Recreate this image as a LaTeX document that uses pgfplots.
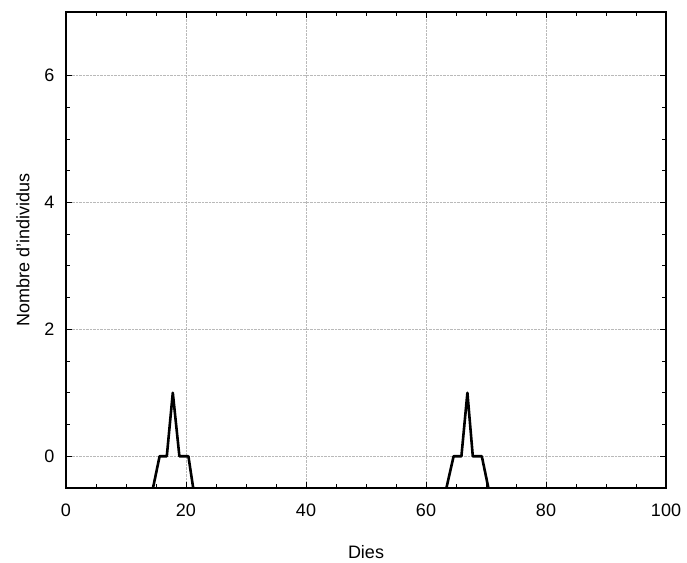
\documentclass[border=0pt]{standalone}
\usepackage{pgfplots}
\pgfplotsset{compat=1.18}
\usepackage{fontspec}
\setmainfont{Liberation Sans}
\begin{document}
\begin{tikzpicture}
\begin{axis}[
  scale only axis,
  width=600pt, height=476pt,
  xmin=0, xmax=100, ymin=-0.5, ymax=7,
  xtick={0,20,...,100}, ytick={0,2,4,6},
  minor x tick num=3, minor y tick num=3,
  tick align=inside,
  major tick length=6pt, minor tick length=4pt,
  axis line style={line width=1.6pt},
  every tick/.style={black, line width=0.8pt},
  grid=major,
  major grid style={densely dotted, gray!55, line width=0.7pt},
  ticklabel style={font=\fontsize{18}{21}\selectfont},
  /pgf/number format/assume math mode=true,
  xticklabel style={yshift=-12pt},
  yticklabel style={xshift=-8pt},
  xlabel={Dies}, ylabel={Nombre d'individus},
  label style={font=\fontsize{18}{21}\selectfont},
  xlabel style={yshift=-22pt},
  ylabel style={yshift=8pt},
  clip=true,
]
% two short outbreaks, each with a single-day peak of one individual
\addplot[black, line width=2.6pt, line join=round] coordinates {
  (14.5,-0.5) (15.6,0) (16.8,0) (17.8,1) (18.9,0) (20.4,0) (21.2,-0.5)
};
\addplot[black, line width=2.6pt, line join=round] coordinates {
  (63.4,-0.5) (64.6,0) (65.9,0) (66.9,1) (67.8,0) (69.3,0) (70.4,-0.5)
};
\end{axis}
\path ([shift={(-66pt,-75pt)}]current axis.south west) rectangle ([shift={(21pt,12pt)}]current axis.north east);
\end{tikzpicture}
\end{document}
